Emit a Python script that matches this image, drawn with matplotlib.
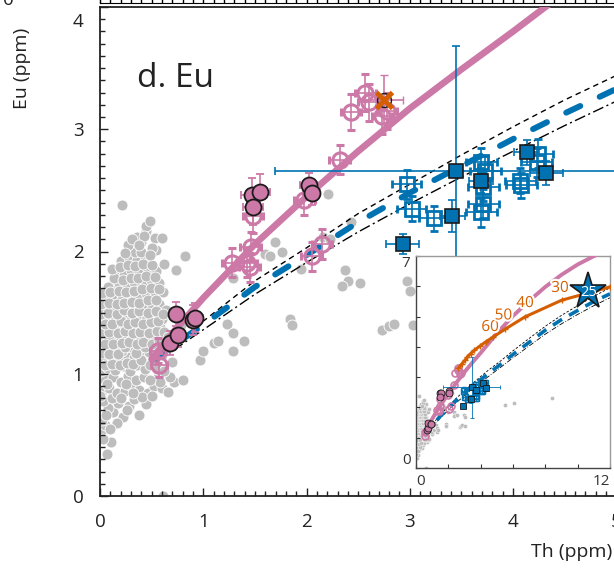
import matplotlib.pyplot as plt
import matplotlib.patheffects as pe
from matplotlib.ticker import MultipleLocator

plt.rcParams['font.family'] = ['Open Sans', 'DejaVu Sans']

pink = '#CC79A7'
blue = '#0072B2'
orange = '#D55E00'
grey = '#BDBDBD'

# model curves (Th ppm, Eu ppm)
pink_th = [0.5, 0.75, 1.0, 1.5, 2.0, 2.5, 3.0, 3.5, 4.0, 4.5, 5.0, 6.0, 7.0, 8.0, 9.0, 10.0, 11.2]
pink_eu = [1.12, 1.38, 1.62, 2.06, 2.45, 2.82, 3.17, 3.49, 3.80, 4.12, 4.45, 5.02, 5.52, 5.98, 6.38, 6.72, 7.05]

blue_th = [0.52, 1.0, 1.5, 2.0, 2.5, 3.0, 3.5, 4.0, 4.5, 5.0, 5.2, 6.0, 7.0, 8.0, 9.0, 10.0, 11.0, 12.0]
blue_eu = [1.12, 1.40, 1.71, 1.97, 2.24, 2.48, 2.70, 2.92, 3.13, 3.33, 3.41, 3.75, 4.15, 4.55, 4.9, 5.2, 5.5, 5.75]

dash_th = [0.55, 1.0, 1.5, 2.0, 2.5, 3.0, 3.5, 4.0, 4.5, 5.0, 5.2, 6.0, 7.0, 8.0, 9.0, 10.0, 11.0, 12.0]
dash_eu = [1.13, 1.43, 1.76, 2.03, 2.31, 2.55, 2.79, 3.02, 3.24, 3.44, 3.52, 3.87, 4.28, 4.68, 5.04, 5.36, 5.67, 5.95]

dashdot_th = [0.55, 1.0, 1.5, 2.0, 2.5, 3.0, 3.5, 4.0, 4.5, 5.0, 5.2, 6.0, 7.0, 8.0, 9.0, 10.0, 11.0, 12.0]
dashdot_eu = [1.10, 1.36, 1.65, 1.91, 2.16, 2.39, 2.61, 2.82, 3.03, 3.23, 3.31, 3.64, 4.03, 4.42, 4.76, 5.07, 5.36, 5.62]

orange_th = [2.62, 2.82, 3.03, 3.18, 3.38, 3.61, 3.96, 4.33, 4.78, 5.5, 6.74, 9.01, 12.0]
orange_eu = [3.29, 3.43, 3.56, 3.67, 3.78, 3.89, 4.03, 4.17, 4.33, 4.58, 4.99, 5.54, 5.98]
orange_lab = ['60', '50', '40', '30']
orange_lab_th = [4.58, 5.4, 6.74, 8.9]
orange_lab_eu = [4.64, 5.02, 5.43, 5.93]
star_th, star_eu, star_lab = 10.66, 5.85, '25'

# grey compilation
grey_th = [0.07, 0.11, 0.01, 0.03, 0.05,
           0.02, 0.13, 0.22, 0.38, 0.08, 0.17, 0.28, 0.33, 0.45, 0.03, 0.12,
           0.02, 0.09, 0.16, 0.24, 0.30, 0.38, 0.46, 0.52, 0.60, 0.66, 0.72, 0.05, 0.13, 0.20, 0.27, 0.35, 0.43, 0.56,
           0.01, 0.08, 0.15, 0.22, 0.29, 0.36, 0.44, 0.50, 0.04, 0.11, 0.18, 0.26, 0.33, 0.40, 0.47, 0.07, 0.14, 0.21, 0.30, 0.38,
           0.02, 0.09, 0.17, 0.24, 0.31, 0.39, 0.46, 0.53, 0.05, 0.13, 0.20, 0.28, 0.35, 0.43, 0.50, 0.58,
           0.01, 0.08, 0.16, 0.23, 0.30, 0.38, 0.45, 0.53, 0.60, 0.04, 0.12, 0.19, 0.27, 0.34, 0.42, 0.50, 0.57, 0.64,
           0.06, 0.14, 0.21, 0.29, 0.37, 0.45, 0.53, 0.61, 0.10, 0.18, 0.26, 0.33, 0.41, 0.49, 0.57, 0.08,
           0.15, 0.23, 0.30, 0.38, 0.46, 0.54, 0.20, 0.28, 0.36, 0.44, 0.34, 0.54, 0.62,
           0.27, 0.40, 0.45, 0.45, 0.53, 0.60, 0.21, 0.36, 0.50,
           0.06, 0.16, 0.26, 0.10,
           0.00, 0.07, 0.20, 0.41, 0.50, 0.58, 0.68, 0.25, 0.32, 0.48,
           0.05, 0.12, 0.19, 0.26, 0.32, 0.40, 0.48, 0.55, 0.62, 0.02, 0.09, 0.17, 0.24, 0.35, 0.44, 0.54, 0.60,
           0.05, 0.13, 0.21, 0.28, 0.36, 0.42, 0.50, 0.57, 0.01, 0.09, 0.17, 0.24, 0.32, 0.39, 0.47, 0.55, 0.62,
           0.05, 0.12, 0.20, 0.27, 0.34, 0.42, 0.49, 0.56, 0.01, 0.08, 0.16, 0.23, 0.31, 0.38, 0.46, 0.54, 0.61,
           0.01, 0.09, 0.16, 0.23, 0.31, 0.38, 0.46, 0.54,
           0.02, 0.10, 0.18, 0.25, 0.33, 0.41, 0.49, 0.57, 0.14, 0.22, 0.30, 0.37, 0.45, 0.53,
           0.12, 0.19, 0.27, 0.34, 0.42, 0.50, 0.24, 0.40, 0.48,
           0.31, 0.43, 0.48, 0.38,
           0.74, 0.82, 0.97, 1.00, 1.10, 1.14, 1.23, 1.29, 1.29, 1.39, 1.29, 1.69, 1.76, 1.60, 1.65,
           1.95, 2.37, 2.40, 2.34, 2.52, 2.43, 2.16, 2.23, 2.21, 1.84, 1.86, 2.73, 2.80, 2.85, 3.03,
           2.97, 3.00, 0.61, 0.66, 0.70, 0.78, 0.80]
grey_eu = [0.34, 0.44, 0.53, 0.47, 0.58,
           0.62, 0.69, 0.65, 0.66, 0.72, 0.76, 0.74, 0.79, 0.75, 0.78, 0.80,
           0.86, 0.88, 0.84, 0.86, 0.90, 0.87, 0.84, 0.90, 0.88, 0.85, 0.93, 0.95, 0.97, 0.93, 0.98, 0.95, 0.97, 0.97,
           1.02, 1.05, 1.03, 1.06, 1.02, 1.07, 1.04, 1.10, 1.12, 1.14, 1.12, 1.15, 1.13, 1.16, 1.18, 1.20, 1.22, 1.19, 1.22, 1.21,
           1.27, 1.29, 1.27, 1.30, 1.28, 1.30, 1.27, 1.31, 1.35, 1.37, 1.35, 1.38, 1.36, 1.38, 1.36, 1.38,
           1.43, 1.45, 1.42, 1.46, 1.44, 1.47, 1.44, 1.48, 1.45, 1.52, 1.54, 1.51, 1.55, 1.53, 1.56, 1.54, 1.57, 1.52,
           1.62, 1.64, 1.61, 1.65, 1.63, 1.66, 1.64, 1.67, 1.72, 1.74, 1.71, 1.75, 1.73, 1.77, 1.74, 1.71,
           1.83, 1.81, 1.85, 1.83, 1.86, 1.84, 1.92, 1.95, 1.93, 1.96, 2.00, 2.01, 1.90,
           2.05, 2.08, 2.17, 2.21, 2.11, 2.11, 2.38, 2.12, 2.03,
           0.66, 0.60, 0.70, 0.55,
           0.82, 0.92, 0.80, 0.81, 0.82, 0.93, 0.97, 0.92, 0.84, 0.95,
           1.07, 1.08, 1.07, 1.09, 1.08, 1.11, 1.07, 1.04, 1.02, 1.17, 1.16, 1.16, 1.22, 1.17, 1.22, 1.20, 1.15,
           1.24, 1.24, 1.25, 1.26, 1.24, 1.26, 1.24, 1.28, 1.33, 1.34, 1.33, 1.35, 1.33, 1.34, 1.33, 1.35, 1.34,
           1.41, 1.41, 1.43, 1.41, 1.42, 1.41, 1.42, 1.43, 1.49, 1.50, 1.49, 1.52, 1.50, 1.51, 1.50, 1.51, 1.49,
           1.57, 1.58, 1.57, 1.58, 1.59, 1.58, 1.60, 1.60,
           1.66, 1.67, 1.68, 1.67, 1.68, 1.69, 1.70, 1.69, 1.78, 1.77, 1.78, 1.78, 1.80, 1.79,
           1.86, 1.87, 1.89, 1.88, 1.90, 1.89, 1.99, 2.00, 1.97,
           2.10, 2.13, 2.25, 2.05,
           1.85, 1.96, 1.11, 1.19, 1.25, 1.27, 1.41, 1.33, 1.19, 1.27, 1.78, 2.08, 2.00, 1.98, 1.96,
           1.86, 1.85, 1.76, 1.72, 1.74, 2.24, 2.12, 2.10, 2.47, 1.45, 1.40, 1.36, 1.39, 1.41, 1.40,
           1.76, 1.68, 0.00, 1.30, 1.10, 1.40, 0.95]
grey_far_th = [5.5, 6.06, 8.43]
grey_far_eu = [2.08, 2.13, 2.32]

# pink samples
pink_open_th = [0.56, 0.57, 1.28, 1.42, 1.45, 1.46, 1.48, 1.98, 2.05, 2.15, 2.32, 2.43, 2.57, 2.60, 2.73, 2.78]
pink_open_eu = [1.19, 1.07, 1.91, 1.91, 1.87, 2.04, 2.29, 2.42, 1.96, 2.06, 2.75, 3.14, 3.30, 3.22, 3.11, 3.15]
pink_open_xerr = [0.08, 0.08, 0.1, 0.1, 0.1, 0.1, 0.1, 0.1, 0.1, 0.1, 0.1, 0.1, 0.1, 0.1, 0.1, 0.1]
pink_open_yerr = [0.1, 0.1, 0.12, 0.12, 0.12, 0.12, 0.14, 0.12, 0.12, 0.12, 0.12, 0.15, 0.15, 0.15, 0.15, 0.15]

pink_fill_th = [0.68, 0.76, 0.74, 0.90, 0.92, 1.47, 1.55, 1.48, 2.02, 2.05]
pink_fill_eu = [1.25, 1.32, 1.49, 1.44, 1.46, 2.46, 2.49, 2.36, 2.54, 2.48]
pink_fill_xerr = [0.06, 0.06, 0.06, 0.08, 0.08, 0.1, 0.1, 0.1, 0.08, 0.08]
pink_fill_yerr = [0.1, 0.1, 0.1, 0.12, 0.12, 0.14, 0.14, 0.14, 0.1, 0.1]

x_th, x_eu = 2.75, 3.24

# blue samples
blue_open_th = [2.97, 3.02, 3.23, 3.69, 3.73, 3.71, 3.69, 3.71, 4.07, 4.08, 4.24, 4.23]
blue_open_eu = [2.55, 2.35, 2.27, 2.73, 2.66, 2.53, 2.32, 2.39, 2.58, 2.54, 2.80, 2.73]
blue_open_xerr = [0.14, 0.14, 0.14, 0.15, 0.15, 0.15, 0.15, 0.15, 0.15, 0.15, 0.15, 0.15]
blue_open_yerr = [0.12, 0.1, 0.1, 0.12, 0.12, 0.12, 0.12, 0.12, 0.1, 0.1, 0.12, 0.12]

blue_fill_th = [3.45, 3.69, 4.13, 4.32, 3.41, 2.93]
blue_fill_eu = [2.66, 2.58, 2.81, 2.64, 2.29, 2.06]
blue_fill_xerr = [1.76, 0.12, 0.12, 0.16, 0.12, 0.16]
blue_fill_yerr = [1.02, 0.1, 0.1, 0.1, 0.13, 0.08]

W, H = 614.0, 572.0
fig = plt.figure(figsize=(6.14, 5.72), dpi=100)

# bottom of the panel above
axt = fig.add_axes([100 / W, 1 - 3 / H, 537 / W, 0.2])
axt.set_xlim(0, 5.2)
axt.set_yticks([])
axt.xaxis.set_major_locator(MultipleLocator(1))
axt.xaxis.set_minor_locator(MultipleLocator(0.1))
axt.tick_params(axis='x', which='both', direction='in', length=3, width=1, labelbottom=False)
fig.text(3 / W, 1.0, '0', fontsize=13.5, va='center', color='#222222')

ax = fig.add_axes([100 / W, 1 - 496 / H, 537 / W, 489 / H])
ax.set_xlim(0, 5.2)
ax.set_ylim(0, 4)

ax.scatter(grey_th, grey_eu, s=62, c=grey, edgecolors='white', linewidths=0.6, zorder=1)

ax.plot(dash_th, dash_eu, color='black', lw=1.0, dashes=(4, 3), zorder=2)
ax.plot(dashdot_th, dashdot_eu, color='black', lw=1.0, dashes=(8, 2.5, 1.5, 2.5), zorder=2)
ax.plot(blue_th, blue_eu, color=blue, lw=4.3, dashes=(2.6, 3.6), dash_capstyle='round', zorder=3)
ax.plot(pink_th, pink_eu, color=pink, lw=4.8, solid_capstyle='round', zorder=3)

ax.errorbar(blue_open_th, blue_open_eu, xerr=blue_open_xerr, yerr=blue_open_yerr, fmt='s', ms=10,
            mfc='none', mec=blue, mew=2, ecolor=blue, elinewidth=1.2, capsize=3, capthick=1.2, zorder=4)
ax.errorbar(blue_fill_th, blue_fill_eu, xerr=blue_fill_xerr, yerr=blue_fill_yerr, fmt='s', ms=10,
            mfc=blue, mec='#1a1a1a', mew=1.2, ecolor=blue, elinewidth=1.2, capsize=3, capthick=1.2, zorder=5)

ax.errorbar(pink_open_th, pink_open_eu, xerr=pink_open_xerr, yerr=pink_open_yerr, fmt='o', ms=11,
            mfc='none', mec=pink, mew=2.2, ecolor=pink, elinewidth=1.2, capsize=3, capthick=1.2, zorder=4)
ax.errorbar(pink_fill_th, pink_fill_eu, xerr=pink_fill_xerr, yerr=pink_fill_yerr, fmt='o', ms=11.5,
            mfc=pink, mec='#1a1a1a', mew=1.3, ecolor=pink, elinewidth=1.2, capsize=3, capthick=1.2, zorder=5)
ax.errorbar([x_th], [x_eu], xerr=[0.18], yerr=[0.2], fmt='o', ms=10, mfc='none', mec='#1a1a1a', mew=1,
            ecolor=pink, elinewidth=1.2, capsize=3, capthick=1.2, zorder=5)
ax.plot([x_th], [x_eu], marker='x', ms=11, mew=3.5, color=orange, zorder=6)

ax.text(137 / W, 1 - 87 / H, 'd. Eu', transform=fig.transFigure, fontsize=24, va='baseline', color='#222222')

ax.xaxis.set_major_locator(MultipleLocator(1))
ax.xaxis.set_minor_locator(MultipleLocator(0.1))
ax.set_yticks([0, 1, 2, 3, 4], ['0', '1', '2', '3', ''])
ax.yaxis.set_minor_locator(MultipleLocator(0.1))
ax.tick_params(which='both', direction='in', top=False, right=False, width=1, labelsize=13.5, colors='#222222')
ax.tick_params(which='major', length=6)
ax.tick_params(which='minor', length=3.5)
ax.tick_params(axis='x', pad=12)
ax.tick_params(axis='y', pad=12)
# the top label sits just below the frame in the original
ax.annotate('4', xy=(0, 4), xycoords=('axes fraction', 'data'), xytext=(-12, -11), textcoords='offset points',
            ha='right', va='center', fontsize=13.5, color='#222222')
for s in ax.spines.values():
    s.set_linewidth(1.3)
    s.set_color('#222222')

fig.text(22 / W, 1 - 68 / H, 'Eu (ppm)', rotation=90, fontsize=14, ha='center', va='center', color='#222222')
fig.text(612 / W, 1 - 552 / H, 'Th (ppm)', fontsize=14, ha='right', va='center', color='#222222')

# inset
axi = fig.add_axes([416 / W, 1 - 468 / H, 194 / W, 212 / H], zorder=5)
axi.set_facecolor('white')
axi.set_xlim(0, 12)
axi.set_ylim(0, 7)

axi.scatter(grey_th + grey_far_th, grey_eu + grey_far_eu, s=9, c=grey, edgecolors='white', linewidths=0.3, zorder=1)
axi.plot(dash_th, dash_eu, color='black', lw=0.6, dashes=(3, 2), zorder=2)
axi.plot(dashdot_th, dashdot_eu, color='black', lw=0.6, dashes=(6, 2, 1, 2), zorder=2)
axi.plot(blue_th, blue_eu, color=blue, lw=2.6, dashes=(3, 2.2), zorder=3)
axi.plot(pink_th, pink_eu, color=pink, lw=2.8, zorder=3)
axi.errorbar(blue_open_th, blue_open_eu, xerr=blue_open_xerr, yerr=blue_open_yerr, fmt='s', ms=4.5,
             mfc='none', mec=blue, mew=1, ecolor=blue, elinewidth=0.6, capsize=1.2, zorder=4)
axi.errorbar(blue_fill_th, blue_fill_eu, xerr=blue_fill_xerr, yerr=blue_fill_yerr, fmt='s', ms=5,
             mfc=blue, mec='#1a1a1a', mew=0.6, ecolor=blue, elinewidth=0.6, capsize=1.2, zorder=5)
axi.errorbar(pink_open_th, pink_open_eu, fmt='o', ms=5, mfc='none', mec=pink, mew=1.2, zorder=4)
axi.errorbar(pink_fill_th, pink_fill_eu, fmt='o', ms=5, mfc=pink, mec='#1a1a1a', mew=0.6, zorder=5)

axi.plot(orange_th, orange_eu, color=orange, lw=2.2, marker='+', ms=5, mew=1, zorder=6)
for lab, tx, ty in zip(orange_lab, orange_lab_th, orange_lab_eu):
    axi.text(tx, ty, lab, color=orange, fontsize=11, ha='center', va='center', zorder=7,
             path_effects=[pe.withStroke(linewidth=3, foreground='white')])
axi.plot([star_th], [star_eu], marker='*', ms=28, mfc=blue, mec='#1a1a1a', mew=1.2, zorder=8)
axi.text(star_th, star_eu - 0.05, star_lab, color='white', fontsize=10.5, ha='center', va='center', zorder=9)

axi.set_xticks(range(0, 13, 2))
axi.set_xticklabels(['0', '', '', '', '', '', '12'])
axi.set_yticks(range(8))
axi.set_yticklabels(['0', '', '', '', '', '', '', '7'])
axi.tick_params(direction='in', length=3, width=0.8, labelsize=11, pad=4, colors='#333333')
xl = axi.get_xticklabels()
xl[0].set_ha('left')
xl[-1].set_ha('right')
yl = axi.get_yticklabels()
yl[0].set_va('bottom')
yl[-1].set_va('top')
for s in ['top', 'right']:
    axi.spines[s].set_color('#9a9a9a')
for s in ['left', 'bottom']:
    axi.spines[s].set_color('#444444')
for s in axi.spines.values():
    s.set_linewidth(1)

plt.savefig('out.png', dpi=100)
